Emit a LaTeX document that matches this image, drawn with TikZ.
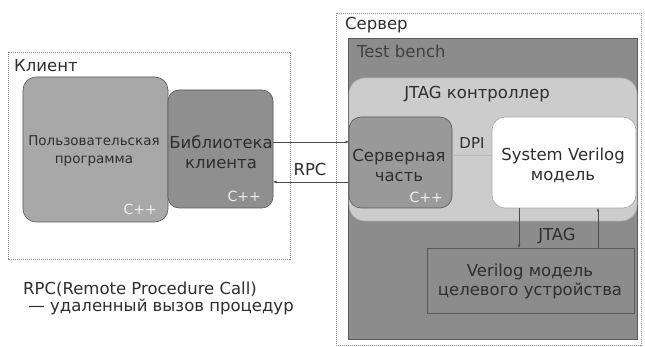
\documentclass[tikz,border=0pt]{standalone}
\usepackage{fontspec}
\setmainfont{DejaVu Sans}
\usetikzlibrary{arrows.meta}
\definecolor{frameline}{gray}{0.55}
\definecolor{benchfill}{gray}{0.55}
\definecolor{ctrlfill}{gray}{0.80}
\definecolor{userfill}{gray}{0.66}
\definecolor{libfill}{gray}{0.56}
\definecolor{srvfill}{gray}{0.60}
\definecolor{boxline}{gray}{0.35}
\definecolor{txt}{gray}{0.18}
\tikzset{
  x=1pt, y=-1pt,
  zone/.style={draw=frameline, line width=0.8pt, dash pattern=on 1.2pt off 0.8pt},
  block/.style={draw=boxline, line width=0.6pt, rounded corners=13pt},
  lang/.style={text=white!88!gray, font=\fontsize{14}{14}\selectfont, anchor=base east, inner sep=0pt},
  link/.style={draw=black!70, line width=0.6pt, -{Latex[length=3.5pt,width=3pt]}},
  lbl/.style={text=txt, align=center},
  big/.style={font=\fontsize{16.5}{20}\selectfont},
}
\begin{document}
\begin{tikzpicture}
\useasboundingbox (0,0) rectangle (645,347);
\fill[white] (0,0) rectangle (645,347);

% client side
\draw[zone] (8,52) rectangle (290,259);
\node[lbl, big, anchor=base west, inner sep=0pt] (clientlbl) at (14,72) {Клиент};
\path[block, fill=userfill] (23,77) rectangle (168,222);
\node[lbl, font=\fontsize{13.5}{18}\selectfont] (user) at (94,151) {Пользовательская\\программа};
\node[lang] (cpp1) at (157,215) {C++};
\path[block, fill=libfill, rounded corners=11pt] (168,90) rectangle (273,208);
\node[lbl, big] (lib) at (221,152) {Библиотека\\клиента};
\node[lang] (cpp2) at (261,202) {C++};

% server side
\draw[zone] (336,13) rectangle (641,345);
\node[lbl, big, anchor=base west, inner sep=0pt] (serverlbl) at (345,30) {Сервер};
\draw[draw=boxline, line width=0.7pt, fill=benchfill] (348,38) rectangle (637,339);
\node[lbl, big, anchor=base west, inner sep=0pt, text=black!75] (bench) at (357,58) {Test bench};
\path[draw=gray!60!white, line width=0.6pt, fill=ctrlfill, rounded corners=16pt] (349,78) rectangle (637,221);
\node[lbl, big] (ctrl) at (477,94) {JTAG контроллер};
\path[block, fill=srvfill, rounded corners=12pt] (349,117) rectangle (452,208);
\node[lbl, big] (srv) at (399,165) {Серверная\\часть};
\node[lang] (cpp3) at (443,203) {C++};
\path[block, fill=white, draw=gray!70, rounded corners=13pt] (492,117) rectangle (636,208);
\node[lbl, big] (sv) at (563,165) {System Verilog\\модель};
\draw[draw=boxline, line width=0.6pt, fill=benchfill] (427,248) rectangle (634,313);
\node[lbl, font=\fontsize{16.5}{19}\selectfont] (dev) at (530,281) {Verilog модель\\целевого устройства};

% connectors
\coordinate (srvL1) at (349,142);
\coordinate (srvL2) at (349,182);
\coordinate (libR1) at (273,142);
\coordinate (libR2) at (273,182);
\draw[link] (libR1) -- (srvL1);
\draw[link] (srvL2) -- (libR2);
\node[lbl, big] (rpc) at (310,169) {RPC};

\coordinate (srvR) at (452,155);
\coordinate (svL) at (492,155);
\draw[draw=gray!55, line width=0.8pt] (srvR) -- (svL);
\node[lbl, font=\fontsize{15}{15}\selectfont] (dpi) at (472,143) {DPI};

\coordinate (svB1) at (519,208);
\coordinate (devT1) at (519,248);
\coordinate (svB2) at (598,208);
\coordinate (devT2) at (598,248);
\draw[link] (svB1) -- (devT1);
\draw[link] (devT2) -- (svB2);
\node[lbl, big] (jtag) at (557,236) {JTAG};

% legend: two lines, anchored at the baseline of the lower one
\node[lbl, anchor=base west, align=left, inner sep=0pt, font=\fontsize{16.5}{17}\selectfont] (legend) at (23,311)
  {RPC(Remote Procedure Call)\\\ — удаленный вызов процедур};
\end{tikzpicture}
\end{document}
